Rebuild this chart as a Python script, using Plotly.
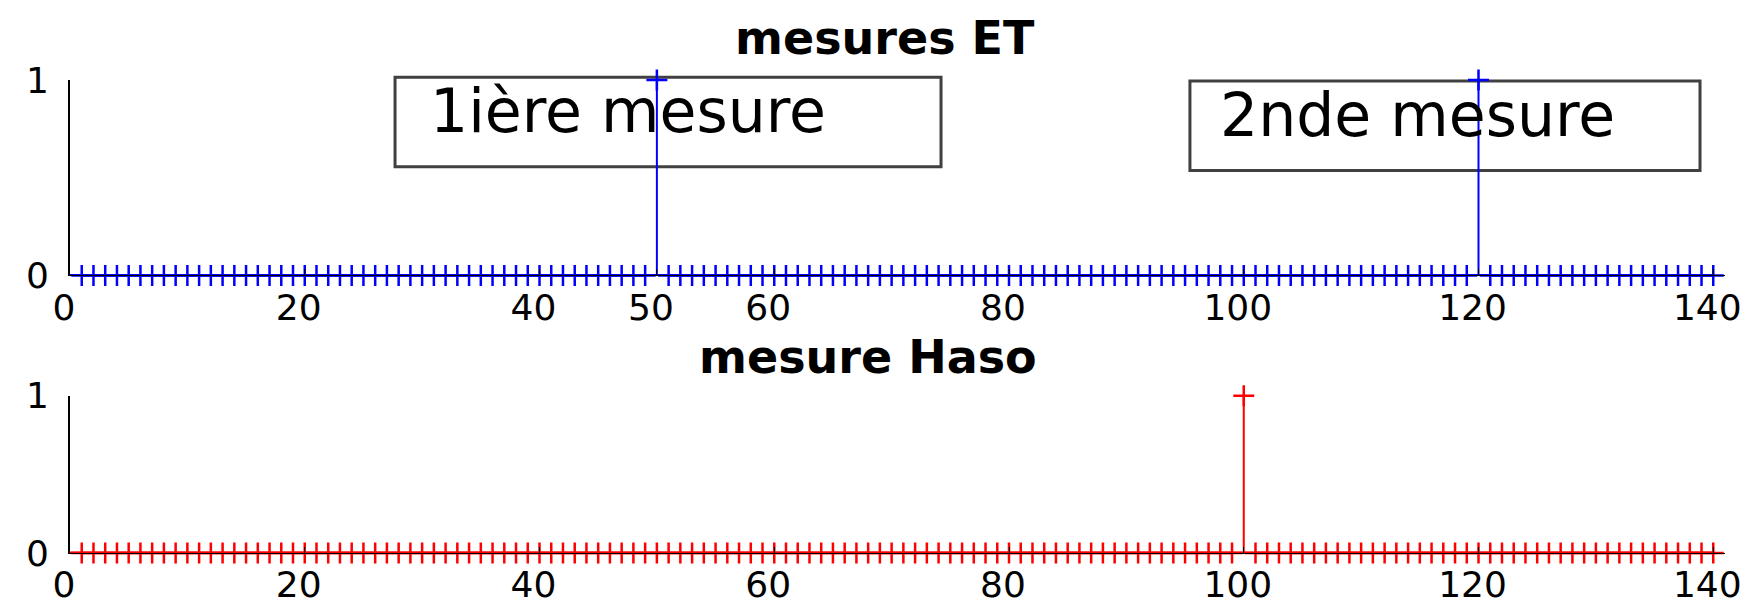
import plotly.graph_objects as go

# ---- data ----
samples = list(range(1, 141))
et_peaks = [50, 120]
haso_peaks = [100]
et_values = [1 if n in et_peaks else 0 for n in samples]
haso_values = [1 if n in haso_peaks else 0 for n in samples]

top_xticks = [0, 20, 40, 50, 60, 80, 100, 120, 140]
bottom_xticks = [0, 20, 40, 60, 80, 100, 120, 140]
yticks = [0, 1]
titles = ["mesures ET", "mesure Haso"]
box_labels = ["1ière mesure", "2nde mesure"]

FONT = "DejaVu Sans, Arial, Helvetica, sans-serif"
BLUE = "#0000FF"
RED = "#FF0000"


def stem_xy(xs, ys):
    sx, sy = [], []
    for x, y in zip(xs, ys):
        if y != 0:
            sx += [x, x, None]
            sy += [0, y, None]
    return sx, sy


fig = go.Figure()

for (vals, color, xa, ya) in [(et_values, BLUE, "x", "y"), (haso_values, RED, "x2", "y2")]:
    # baseline
    fig.add_trace(go.Scatter(x=[0, samples[-1]], y=[0, 0], mode="lines",
                             line=dict(color=color, width=3), xaxis=xa, yaxis=ya,
                             hoverinfo="skip", cliponaxis=False))
    sx, sy = stem_xy(samples, vals)
    fig.add_trace(go.Scatter(x=sx, y=sy, mode="lines", line=dict(color=color, width=2),
                             xaxis=xa, yaxis=ya, cliponaxis=False, hoverinfo="skip"))
    fig.add_trace(go.Scatter(x=samples, y=vals, mode="markers",
                             marker=dict(symbol="cross-thin", size=15,
                                         line=dict(color=color, width=2.5)),
                             xaxis=xa, yaxis=ya, cliponaxis=False))

axis_common = dict(showgrid=False, zeroline=False, showline=True, linecolor="black",
                   tickcolor="black", tickfont=dict(family=FONT, size=36, color="black"))

fig.update_layout(
    width=1750, height=609,
    margin=dict(l=62, r=33, t=72, b=41),
    paper_bgcolor="white", plot_bgcolor="white",
    showlegend=False,
    xaxis=dict(domain=[0, 1], range=[0, 141], tickvals=top_xticks, ticks="inside",
               ticklen=6, linewidth=1, anchor="y", ticklabelstandoff=0,
               ticklabelshift=-6, **axis_common),
    yaxis=dict(domain=[0.5867, 1], range=[0, 1], tickvals=yticks, ticks="inside",
               ticklen=16, tickwidth=2, linewidth=2, anchor="x",
               ticklabelstandoff=12, **axis_common),
    xaxis2=dict(domain=[0, 1], range=[0, 141], tickvals=bottom_xticks, ticks="inside",
                ticklen=6, linewidth=1, anchor="y2", ticklabelstandoff=0,
                ticklabelshift=-6, **axis_common),
    yaxis2=dict(domain=[0, 0.3327], range=[0, 1], tickvals=yticks, ticks="inside",
                ticklen=16, tickwidth=2, linewidth=2, anchor="x2",
                ticklabelstandoff=12, **axis_common),
)

# boxes around the labels (top panel), in paper coordinates
boxes = [dict(x0=0.1964, x1=0.5263, y0=0.8165, y1=1.006, tx=0.2163, ty=0.935),
         dict(x0=0.6767, x1=0.9849, y0=0.8085, y1=0.998, tx=0.6935, ty=0.925)]
for b, lab in zip(boxes, box_labels):
    fig.add_shape(type="rect", xref="paper", yref="paper",
                  x0=b["x0"], x1=b["x1"], y0=b["y0"], y1=b["y1"],
                  line=dict(color="#404040", width=3), layer="below")
    fig.add_annotation(x=b["tx"], y=b["ty"], xref="paper", yref="paper", text=lab,
                       showarrow=False, xanchor="left", yanchor="middle",
                       font=dict(family=FONT, size=60, color="black"))

# titles
fig.add_annotation(x=0.4924, y=1.088, xref="paper", yref="paper", text=titles[0],
                   showarrow=False, xanchor="center", yanchor="middle",
                   font=dict(family=FONT, size=46, color="black", weight="bold"))
fig.add_annotation(x=0.4822, y=0.415, xref="paper", yref="paper", text=titles[1],
                   showarrow=False, xanchor="center", yanchor="middle",
                   font=dict(family=FONT, size=46, color="black", weight="bold"))

fig.write_html("out.html")
